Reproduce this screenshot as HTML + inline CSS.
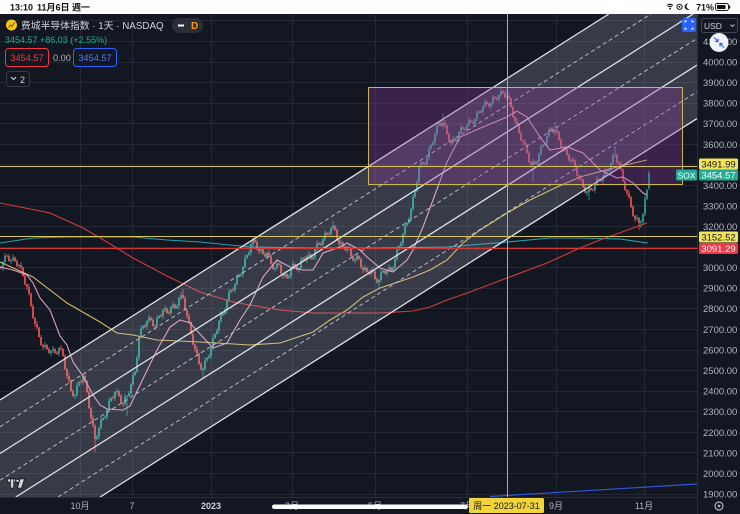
<!DOCTYPE html>
<html><head><meta charset="utf-8">
<style>
html,body{margin:0;padding:0;background:#131722;width:740px;height:514px;overflow:hidden;}
svg{display:block;position:absolute;left:0;top:0;}
text{font-family:"Liberation Sans","Noto Sans CJK SC",sans-serif;}
</style></head><body>
<svg width="740" height="514" viewBox="0 0 740 514" xmlns="http://www.w3.org/2000/svg">
<defs><clipPath id="cp"><rect x="0" y="14" width="697" height="483"/></clipPath></defs>
<rect x="0" y="0" width="740" height="514" fill="#131722"/>

<path stroke="#242834" stroke-width="1" fill="none" d="M0 20.5H697M0 41.5H697M0 62.5H697M0 82.5H697M0 103.5H697M0 123.5H697M0 144.5H697M0 164.5H697M0 185.5H697M0 206.5H697M0 226.5H697M0 247.5H697M0 267.5H697M0 288.5H697M0 308.5H697M0 329.5H697M0 350.5H697M0 370.5H697M0 391.5H697M0 411.5H697M0 432.5H697M0 452.5H697M0 473.5H697M0 494.5H697M80.5 14V497M132.5 14V497M211.5 14V497M292.5 14V497M375.5 14V497M467.5 14V497M556.5 14V497M644.5 14V497"/>

<g clip-path="url(#cp)">
<path fill="none" stroke="#26a69a" stroke-width="0.8" d="M3 261V271M5 253V264M11 259V264M13 254.5V262M19 264V269M45 342V349M51 350V356M53 346V353M59 347V356.5M75 394V399M77 382.5V397M79 381V386.5M83 375V385M97 434.5V440M99 427V439.5M101 417V430M103 417V421M105 415V419M107 409V420M109 398V412M111 397V402M115 391V401M117 388V394M125 394V406M127 395V416M129 391V397M131 383V396M133 372V386M135 371V376M137 355.5V373M139 336V360.5M141 325.5V339M143 325V329.5M147 320V329.5M149 314.5V323M157 315V328M159 315V319M163 309V319M165 305.5V312M171 306V316M173 301.5V309M177 304V309M179 297V309M181 292V300M203 367.5V378M205 357.5V371M207 357V361.5M209 354V359M211 347V359M213 335V350M215 333V339M217 328.5V335M219 320V333.5M221 311.5V323M223 312.5V316M225 308V315M227 299V313M229 289V302M231 289V293M235 283V293M237 274V286M239 275V278M241 272.5V277M243 266V277.5M245 255V269M247 254V259M249 250.5V256M251 243V255.5M253 237V246M261 246.5V253M267 252V259.5M275 267V272M277 260.5V270M285 271V278M289 274V279M291 267V279M293 261V270M299 267V273M301 257V270M303 257V261M307 255V263M309 251.5V258M313 255V260M315 248V260M317 240.5V251M323 238V247.5M325 230.5V241M331 227V237M333 221V230M341 239.5V246M347 246V253M355 258V263.5M357 253V261M365 265V272M371 269V277M379 279V289M381 269.5V282M383 270V273.5M387 269V276.5M389 264.5V272M393 266V272M395 258V271M397 246.5V261M399 245V250.5M401 241V247M403 233V246M405 222.5V236M407 222V226.5M409 217V224M411 208V222M413 194V211M415 190V198M417 180V192M419 166V185M421 159.5V169M427 157V167M429 145.5V160M431 144V149.5M433 140.5V146M435 133V145.5M437 122.5V136M439 122V126.5M443 113V129M453 136V145M457 137.5V142M459 131V142.5M461 124.5V134M467 124V133M469 117.5V127M475 118V126.5M477 109.5V121M479 110.5V114M483 105V115M485 99V108M491 102V109.5M493 94.5V105M499 94V102.5M501 88V97M507 89V100.5M533 158.5V182M537 160V165M539 153V165M541 143.5V156M543 144V147.5M545 141.5V146M547 135V146.5M549 126.5V138M555 122V135.5M571 158.5V164M587 190.5V196M589 185V200M595 183V193M597 176V186M603 175V184M605 167.5V178M609 168V172M611 162V173M613 153V165M615 146V157M637 215V221M641 219.5V228M643 213V224.5M645 196V216M647 189V200M649 170V190"/>
<path fill="none" stroke="#26a69a" stroke-width="1.7" d="M3 262V268M5 256V262M11 260V261M13 257.5V260M19 265V266M45 345V347M51 351V353M53 349V351M59 348V353.5M75 395V396M77 385.5V395M79 382V385.5M83 376V382M97 436.5V439M99 428V436.5M101 420V428M103 418V420M105 417V418M107 410V417M109 401V410M111 398V401M115 392V398M117 391V392M125 397V404M127 396V397M129 393V396M131 384V393M133 375V384M135 372V375M137 357.5V372M139 337V357.5M141 328.5V337M143 326V328.5M147 321V326.5M149 317.5V321M157 318V326M159 316V318M163 310V316M165 308.5V310M171 307V313M173 304.5V307M177 306V308M179 298V306M181 295V298M203 368.5V370M205 360.5V369M207 358V360.5M209 356V358M211 348V356M213 338V348M215 334V338M217 330.5V334M219 321V330.5M221 314.5V321M223 313.5V315M225 310V314M227 300V310M229 292V300M231 290V292M235 284V290M237 277V284M239 276V277M241 274.5V276M243 267V274.5M245 258V267M247 255V258M249 252.5V255M251 244V252.5M253 240V244M261 249.5V251M267 253V256.5M275 268V269M277 263.5V268M285 274V276M289 276V278M291 268V276M293 264V268M299 268V270M301 260V268M303 258V260M307 256V260M309 254.5V256M313 257V259M315 249V257M317 243.5V249M323 239V244.5M325 233.5V239M331 228V234M333 226V228M341 242.5V244M347 247V250M355 259V260.5M357 256V259M365 268V270M371 270V274M379 280V282.5M381 272.5V280M383 271V272.5M387 270V273.5M389 267.5V270M393 268V271M395 259V268M397 249.5V259M399 246V249.5M401 243V246M403 234V243M405 225.5V234M407 223V225.5M409 219V223M411 209V219M413 197V209M415 191V197M417 182V191M419 167V182M421 162.5V167M427 158V164M429 148.5V158M431 145V148.5M433 142.5V145M435 134V142.5M437 125.5V134M439 123V125.5M443 123V126M453 139V143M457 139.5V141M459 132V139.5M461 127.5V132M467 125V130M469 120.5V125M475 119V123.5M477 112.5V119M479 111.5V113M483 106V112M485 102V106M491 103V106.5M493 97.5V103M499 95V99.5M501 91V95M507 96V97.5M533 161.5V165M537 162V164M539 154V162M541 146.5V154M543 145V146.5M545 143.5V145M547 136V143.5M549 129.5V136M555 130V132.5M571 159.5V161M587 191.5V193M589 188V192M595 184V190M597 179V184M603 176V181M605 170.5V176M609 170V171M611 163V170M613 156V163M615 155V156M637 218V219M641 221.5V223M643 214V221.5M645 199V214M647 190V199M649 173V188"/>
<path fill="none" stroke="#ef5350" stroke-width="0.8" d="M1 265.5V269.5M7 254.5V257.5M9 254V262M15 256.5V262M17 259V267M21 262V269.5M23 266.5V277M25 274V285.5M27 283.5V290M29 284V295.5M31 292.5V307M33 304V319M35 317V327M37 321V329.5M39 326.5V338M41 335V346M43 344V350M47 344V350M49 347V354M55 348V354M57 351V355M61 345V351M63 348V357M65 354V370M67 368V379M69 373V382.5M71 379.5V392M73 389V397M81 379.5V383.5M85 373V383M87 380V393M89 390V409M91 407V421M93 415V427.5M95 424.5V452M113 395.5V399.5M119 390V397M121 394V404M123 402V407M145 323.5V328M151 316.5V321M153 318V327M155 324.5V329.5M161 313.5V317.5M167 307.5V314M169 310.5V314.5M175 303.5V309M183 289V299M185 296V311M187 309V319M189 313V324M191 321V335M193 332V345.5M195 343.5V352M197 346V355.5M199 352.5V365M201 362V370.5M233 287.5V291.5M255 239V243M257 240V250.5M259 248.5V254M263 248.5V255M265 252V257.5M269 250V257.5M271 254.5V265M273 262V270M279 262.5V266M281 263V274.5M283 272.5V279M287 273V279M295 263V267M297 264V271M305 256V261M311 253.5V260M319 242V245.5M321 241.5V246M327 232V235.5M329 231.5V235.5M335 225V231M337 228V241M339 239V247M343 241.5V248M345 245V251M349 244V250.5M351 247.5V257M353 254V261.5M359 255V260M361 257V268.5M363 266.5V273M367 267V273M369 270V275M373 267V273.5M375 270.5V280M377 277V283.5M385 269V274.5M391 266.5V272M423 161.5V165M425 161.5V165.5M441 121V127M445 120V127.5M447 124.5V135M449 132V142.5M451 140.5V146M455 138V142M463 126.5V130M465 127V131M471 119.5V123M473 120V124.5M481 109.5V113.5M487 101V105M489 102V107.5M495 96V99.5M497 96V100.5M503 90V94M505 91V98.5M509 93V100.5M511 97.5V108M513 105V118M515 116V124M517 118V126M519 123V134M521 131V141.5M523 139.5V145M525 139V146.5M527 143.5V154M529 151V163M531 161V168M535 160.5V165M551 127.5V131M553 127V133.5M557 127V134M559 131V141M561 138V148.5M563 146.5V152M565 145.5V151.5M567 148V156M569 153V161.5M573 156.5V163M575 159.5V168M577 165V176.5M579 174.5V181M581 175V181.5M583 178.5V188M585 185V193.5M591 187V191M593 187.5V191.5M599 178V181M601 178V182M607 169V172.5M617 153V163.5M619 161.5V167M621 161V171.5M623 168.5V182M625 179V191M627 189V196M629 190V199M631 196V208M633 205V217M635 215V222M639 217V230"/>
<path fill="none" stroke="#ef5350" stroke-width="1.7" d="M1 267.5V268.5M7 255.5V256.5M9 256V261M15 257.5V261M17 261V266M21 265V267.5M23 267.5V276M25 276V284.5M27 284.5V287M29 287V293.5M31 293.5V306M33 306V318M35 318V324M37 324V327.5M39 327.5V337M41 337V345M43 345V347M47 345V349M49 349V353M55 349V353M57 352.5V354M61 348V349M63 349V356M65 356V369M67 369V376M69 376V380.5M71 380.5V391M73 391V396M81 381.5V382.5M85 376V381M87 381V392M89 392V408M91 408V418M93 418V425.5M95 425.5V439M113 397.5V398.5M119 391V396M121 396V403M123 403V404M145 325.5V327M151 317.5V320M153 320V326M155 325.5V326.5M161 315.5V316.5M167 308.5V313M169 312.5V313.5M175 304.5V308M183 295V298M185 298V310M187 310V316M189 316V322M191 322V334M193 334V344.5M195 344.5V349M197 349V353.5M199 353.5V364M201 364V369.5M233 289.5V290.5M255 240V242M257 242V249.5M259 249.5V251M263 249.5V254M265 254V256.5M269 253V255.5M271 255.5V264M273 264V269M279 263.5V265M281 265V273.5M283 273.5V276M287 274V278M295 264V266M297 266V270M305 258V260M311 254.5V259M319 243V244.5M321 243.5V245M327 233V234.5M329 233.5V234.5M335 226V230M337 230V240M339 240V244M343 242.5V247M345 247V250M349 247V248.5M351 248.5V256M353 256V260.5M359 256V259M361 259V267.5M363 267.5V270M367 268V272M369 272V274M373 270V271.5M375 271.5V279M377 279V282.5M385 271V273.5M391 267.5V271M423 162.5V164M425 163.5V164.5M441 123V126M445 123V125.5M447 125.5V134M449 134V141.5M451 141.5V143M455 139V141M463 127.5V129M465 129V130M471 120.5V122M473 122V123.5M481 111.5V112.5M487 102V104M489 104V106.5M495 97V98.5M497 98V99.5M503 91V93M505 93V97.5M509 96V98.5M511 98.5V107M513 107V117M515 117V121M517 121V124M519 124V133M521 133V140.5M523 140.5V142M525 142V144.5M527 144.5V153M529 153V162M531 162V165M535 161.5V164M551 128.5V130M553 129V132.5M557 130V132M559 132V140M561 140V147.5M563 147.5V149M565 148.5V149.5M567 149V155M569 155V160.5M573 159.5V161M575 160.5V167M577 167V175.5M579 175.5V178M581 178V179.5M583 179.5V187M585 187V192.5M591 188V190M593 189.5V190.5M599 179V180M601 180V181M607 170V171.5M617 155V162.5M619 162.5V164M621 164V169.5M623 169.5V181M625 181V190M627 190V193M629 193V197M631 197V207M633 207V216M635 216V219M639 218V223"/>

  <polyline fill="none" stroke="#2a9fb0" stroke-width="1.1" points="0,243 33,238 67,237 100,237 133,237 167,240 200,242 250,247 313,248 380,248 447,247 507,242 550,238 580,238 620,239 648,243"/>
  <polyline fill="none" stroke="#d7b866" stroke-width="1.1" points="0,262 33,277 67,303 100,322 117,333 133,335 157,340 200,342 250,345 280,343 313,332 330,320 347,310 363,297 380,288 413,277 430,270 447,260 463,243 480,230 507,213 530,200 557,187 580,177 617,167 647,160"/>
  <polyline fill="none" stroke="#d23b3b" stroke-width="1.1" points="0,203 50,213 83,228 107,242 133,258 167,276 200,292 233,302 250,305 280,310 313,313 347,313 380,313 413,311 430,307 447,300 470,292 507,278 547,263 580,248 600,240 633,228 647,223"/>
  <polyline fill="none" stroke="#e39ac0" stroke-width="1.1" points="0,267 13,270 27,275 33,283 40,298 50,310 60,336 67,345 73,362 83,376 93,395 100,405 107,409 123,410 130,406 140,385 157,350 170,327 180,320 190,323 200,334 213,348 227,343 240,320 250,305 263,277 277,260 290,267 303,270 313,270 323,253 340,247 347,243 360,250 367,257 380,268 393,272 407,260 413,250 423,227 433,200 447,162 460,137 483,127 507,117 517,111 527,117 540,137 550,150 567,147 583,153 600,170 617,178 623,177 633,183 643,193 647,195"/>
  <line x1="490" y1="496.5" x2="697" y2="484" stroke="#2f55d4" stroke-width="1.2"/>

  <polygon points="0,400 608.8,14 697,14 697,118.6 100.2,497 0,497" fill="rgba(200,205,222,0.2)"/>
  <g stroke="#dfe0e8" stroke-width="1.3">
    <line x1="0" y1="400" x2="608.8" y2="14"/>
    <line x1="0" y1="453.5" x2="693.2" y2="14"/>
    <line x1="15.8" y1="497" x2="697" y2="65.1"/>
    <line x1="100.2" y1="497" x2="697" y2="118.6"/>
  </g>
  <g stroke="#c4c6d0" stroke-width="0.9" stroke-dasharray="4 3">
    <line x1="0" y1="426.75" x2="651" y2="14"/>
    <line x1="0" y1="480.25" x2="697" y2="38.35"/>
    <line x1="58" y1="497" x2="697" y2="91.85"/>
  </g>

  <rect x="368.5" y="87.5" width="314" height="97" fill="rgba(150,60,170,0.3)" stroke="#c9b45a" stroke-width="1"/>

  <line x1="0" y1="166.5" x2="697" y2="166.5" stroke="#d8c65a" stroke-width="1"/>
  <line x1="0" y1="236.5" x2="697" y2="236.5" stroke="#d8c65a" stroke-width="1"/>
  <line x1="0" y1="248.5" x2="697" y2="248.5" stroke="#d23838" stroke-width="1.2"/>

  <line x1="507.5" y1="14" x2="507.5" y2="497" stroke="#c9b23a" stroke-width="1"/>
</g>

<line x1="0" y1="497.5" x2="697" y2="497.5" stroke="#2a2e39" stroke-width="1"/>
<line x1="697.5" y1="14" x2="697.5" y2="514" stroke="#2a2e39" stroke-width="1"/>

<g font-size="9.5" fill="#b2b5be">
  <text x="703" y="45">4100.00</text>
  <text x="703" y="65.5">4000.00</text>
  <text x="703" y="86">3900.00</text>
  <text x="703" y="106.5">3800.00</text>
  <text x="703" y="127">3700.00</text>
  <text x="703" y="148">3600.00</text>
  <text x="703" y="189">3400.00</text>
  <text x="703" y="209.5">3300.00</text>
  <text x="703" y="230">3200.00</text>
  <text x="703" y="271">3000.00</text>
  <text x="703" y="291.5">2900.00</text>
  <text x="703" y="312">2800.00</text>
  <text x="703" y="333">2700.00</text>
  <text x="703" y="353.5">2600.00</text>
  <text x="703" y="374">2500.00</text>
  <text x="703" y="394.5">2400.00</text>
  <text x="703" y="415">2300.00</text>
  <text x="703" y="436">2200.00</text>
  <text x="703" y="456.5">2100.00</text>
  <text x="703" y="477">2000.00</text>
  <text x="703" y="497.5">1900.00</text>
</g>

<rect x="699" y="158.5" width="39" height="11" rx="1.5" fill="#f2e35c"/>
<text x="718.5" y="167.5" font-size="9.5" fill="#131722" text-anchor="middle">3491.99</text>
<rect x="676" y="169.5" width="21" height="11" rx="1.5" fill="#22ab94"/>
<text x="686.5" y="178.3" font-size="8.5" fill="#ffffff" text-anchor="middle">SOX</text>
<rect x="699" y="169.5" width="39" height="11" rx="1.5" fill="#22ab94"/>
<text x="718.5" y="178.5" font-size="9.5" fill="#ffffff" text-anchor="middle">3454.57</text>
<rect x="699" y="231.5" width="39" height="11" rx="1.5" fill="#f2e35c"/>
<text x="718.5" y="240.5" font-size="9.5" fill="#131722" text-anchor="middle">3152.52</text>
<rect x="699" y="243" width="39" height="11" rx="1.5" fill="#f23645"/>
<text x="718.5" y="252" font-size="9.5" fill="#ffffff" text-anchor="middle">3091.29</text>

<g font-size="9" fill="#b2b5be" text-anchor="middle">
  <text x="80" y="509">10月</text>
  <text x="132" y="509">7</text>
  <text x="211" y="509" font-weight="bold" fill="#d1d4dc">2023</text>
  <text x="292" y="509">3月</text>
  <text x="375" y="509">5月</text>
  <text x="467" y="509">7月</text>
  <text x="556" y="509">9月</text>
  <text x="644" y="509">11月</text>
</g>
<rect x="469" y="498" width="75" height="15" rx="1.5" fill="#f0d43a"/>
<text x="506.5" y="509" font-size="9" fill="#131722" text-anchor="middle">周一 2023-07-31</text>

<circle cx="719" cy="506" r="4" fill="none" stroke="#b2b5be" stroke-width="1.2"/>
<circle cx="719" cy="506" r="1.4" fill="#b2b5be"/>

<g fill="#d1d4dc" stroke="#000" stroke-width="0.6">
  <rect x="7.5" y="479" width="8" height="3"/>
  <rect x="10.5" y="479" width="3.2" height="9"/>
  <circle cx="17.5" cy="480.8" r="1.6"/>
  <polygon points="20,479 24.5,479 21.5,488 17.5,488"/>
</g>

<circle cx="11.5" cy="25" r="5.5" fill="#f5c518"/>
<path d="M8.5 27.5 L10.5 25 L12 26.5 L14.5 22.5" stroke="#7a5a00" stroke-width="1" fill="none"/>
<text x="21" y="29" font-size="9.8" fill="#d1d4dc">费城半导体指数 · 1天 · NASDAQ</text>
<rect x="172" y="18" width="31" height="15" rx="7.5" fill="#2a2e39"/>
<line x1="178" y1="25.5" x2="184" y2="25.5" stroke="#ffffff" stroke-width="2"/>
<text x="191" y="29" font-size="10" font-weight="bold" fill="#ff9800">D</text>
<text x="5" y="43" font-size="9" fill="#22ab94">3454.57 +86.03 (+2.55%)</text>
<rect x="5.5" y="48.5" width="43" height="18" rx="3" fill="#131722" stroke="#f23645" stroke-width="1"/>
<text x="27" y="61" font-size="9.2" fill="#f23645" text-anchor="middle">3454.57</text>
<text x="53" y="61" font-size="9.2" fill="#b2b5be">0.00</text>
<rect x="73.5" y="48.5" width="43" height="18" rx="3" fill="#131722" stroke="#2962ff" stroke-width="1"/>
<text x="95" y="61" font-size="9.2" fill="#4c7dff" text-anchor="middle">3454.57</text>
<rect x="6.5" y="71.5" width="23" height="15" rx="3" fill="#131722" stroke="#363a45" stroke-width="1"/>
<path d="M11 77 L13.5 79.5 L16 77" stroke="#d1d4dc" stroke-width="1.1" fill="none"/>
<text x="20" y="83" font-size="9" fill="#d1d4dc">2</text>

<rect x="682" y="18" width="14" height="14" rx="2" fill="#2962ff"/>
<path d="M685 22.5V21H687M693 22.5V21H691M685 27.5V29H687M693 27.5V29H691" stroke="#fff" stroke-width="1.1" fill="none"/>
<rect x="701.5" y="18.5" width="36" height="14" rx="2" fill="#131722" stroke="#434651" stroke-width="1"/>
<text x="704" y="29" font-size="8.5" fill="#d1d4dc">USD</text>
<path d="M730.5 24.5 L732.5 26.5 L734.5 24.5" stroke="#b2b5be" stroke-width="1" fill="none"/>
<circle cx="719" cy="42.5" r="9.5" fill="#f0f3fa"/>
<path d="M714 37.5 L718 41.5 M718 38.7 V41.5 H715.2 M724 47.5 L720 43.5 M720 46.3 V43.5 H722.8" stroke="#2962ff" stroke-width="1.2" fill="none"/>

<rect x="0" y="0" width="740" height="14" fill="#ffffff"/>
<text x="10" y="10.5" font-size="9" font-weight="bold" fill="#111">13:10</text>
<text x="37" y="10.5" font-size="9" font-weight="bold" fill="#111">11月6日 週一</text>
<path d="M667 5.5 Q670 3 673 5.5 M668.2 7 Q670 5.5 671.8 7" stroke="#111" stroke-width="1.1" fill="none"/>
<circle cx="670" cy="8.6" r="0.9" fill="#111"/>
<circle cx="679.5" cy="6.8" r="2.6" fill="none" stroke="#111" stroke-width="1"/>
<circle cx="679.5" cy="6.8" r="0.9" fill="#111"/>
<path d="M688.5 3.5 A3.2 3.2 0 1 0 690 9 A2.6 2.6 0 0 1 688.5 3.5Z" fill="#111"/>
<text x="696" y="10.5" font-size="9" font-weight="bold" fill="#111">71%</text>
<rect x="715.5" y="3.5" width="13" height="7" rx="2" fill="none" stroke="#111" stroke-width="0.9"/>
<rect x="717" y="5" width="8.5" height="4" rx="0.8" fill="#111"/>
<rect x="729" y="5.5" width="1.2" height="3" fill="#111"/>

<rect x="272" y="504.5" width="196" height="4.5" rx="2.25" fill="#ffffff"/>
</svg>
</body></html>
